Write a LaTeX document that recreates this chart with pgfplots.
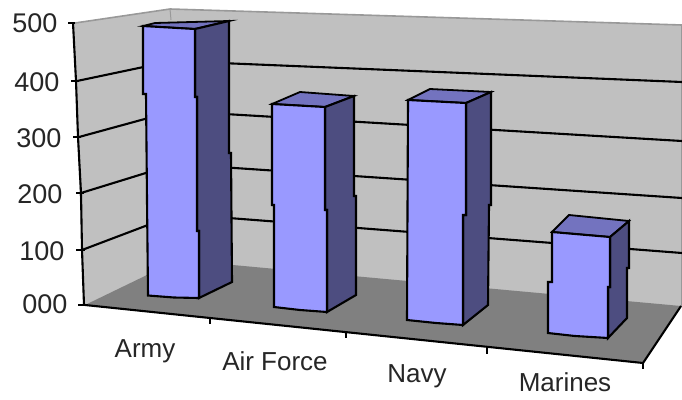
\documentclass[border=0pt]{standalone}
\usepackage{pgfplots}
\pgfplotsset{compat=1.18}
\usepackage{fontspec}
\setmainfont{Liberation Sans}
\definecolor{wall}{HTML}{C0C0C0}
\definecolor{floorc}{HTML}{808080}
\definecolor{front}{HTML}{9999FF}
\definecolor{side}{HTML}{4D4D80}
\definecolor{topc}{HTML}{7373BF}
\definecolor{rim}{HTML}{999999}
\begin{document}
\begin{tikzpicture}[x=1pt,y=1pt]
\useasboundingbox (0,0) rectangle (682pt,399pt);
\begin{axis}[
  at={(0,0)},anchor=south west,
  scale only axis,width=682pt,height=399pt,
  xmin=0,xmax=682,ymin=0,ymax=399,y dir=reverse,
  hide axis,clip=false,
  every axis plot/.append style={line join=miter,line cap=butt},
]
% walls
\addplot[fill=wall,draw=none] coordinates {(73,23)(170,9)(682,25)(682,306)(178,300)(84,305)} --cycle;
\addplot[rim,line width=1.6pt] coordinates {(75,23)(170,9)(682,25)};
\addplot[rim,line width=1pt] coordinates {(170,9)(171,20)};
\addplot[rim,line width=1pt] coordinates {(681.5,25)(681.5,306)};
% gridlines
\addplot[black,line width=2.1pt] coordinates {(77,81)(172,61)(682,82)};
\addplot[black,line width=2.1pt] coordinates {(79,137)(174,111)(682,141)};
\addplot[black,line width=2.1pt] coordinates {(81,193)(175,164)(682,198)};
\addplot[black,line width=2.1pt] coordinates {(82,250)(177,214)(682,253)};
% floor
\addplot[fill=floorc,draw=none] coordinates {(85,305)(178,260)(681,306)(643,363)} --cycle;
\addplot[black,line width=2.1pt] coordinates {(85,305)(643,363)(681,306)};
% value axis
\addplot[black,line width=2.1pt] coordinates {(73,23)(76,81)(78,137)(81,193)(82,250)(84,305)};
\addplot[black,line width=1.8pt] coordinates {(68,23)(75,23)};
\addplot[black,line width=1.8pt] coordinates {(71,81)(79,81)};
\addplot[black,line width=1.8pt] coordinates {(73,137)(81,137)};
\addplot[black,line width=1.8pt] coordinates {(76,193)(84,193)};
\addplot[black,line width=1.8pt] coordinates {(76,250)(85,250)};
\addplot[black,line width=1.8pt] coordinates {(78,305)(88,305)};
% category ticks
\addplot[black,line width=1.8pt] coordinates {(210,317)(210,324)};
\addplot[black,line width=1.8pt] coordinates {(346,331)(346,338)};
\addplot[black,line width=1.8pt] coordinates {(487,346)(487,354)};
\addplot[black,line width=1.8pt] coordinates {(643,362)(643,369)};
% Army
\addplot[fill=topc,draw=black,line width=1.8pt] coordinates {(143,26)(155,23)(229,21)(195,29)} --cycle;
\addplot[fill=side,draw=black,line width=2.1pt] coordinates {(195,29)(229,21)(229,153)(231,153)(232,282)(199,298)(199,231)(197,231)(197,97)(195,97)} --cycle;
\addplot[fill=front,draw=black,line width=2.1pt] coordinates {(143,26)(195,29)(195,97)(197,97)(197,231)(199,231)(199,298)(174,297.5)(148,295.5)(147,200)(146,94)(143,94)} --cycle;
% Air Force
\addplot[fill=topc,draw=black,line width=1.8pt] coordinates {(272,104)(300,92)(354,96)(325,107)} --cycle;
\addplot[fill=side,draw=black,line width=2.1pt] coordinates {(325,107)(354,96)(354,196)(356,196)(356,295)(327,312)(327,210)(325,210)} --cycle;
\addplot[fill=front,draw=black,line width=2.1pt] coordinates {(272,104)(325,107)(325,210)(327,210)(327,312)(300,310)(274,307)(274,205)(272,205)} --cycle;
% Navy
\addplot[fill=topc,draw=black,line width=1.8pt] coordinates {(408,100)(430,89)(491,92)(466,103)} --cycle;
\addplot[fill=side,draw=black,line width=2.1pt] coordinates {(466,103)(491,92)(491,205)(489,205)(488,305)(463,325)(463,215)(466,215)} --cycle;
\addplot[fill=front,draw=black,line width=2.1pt] coordinates {(408,100)(466,103)(466,215)(463,215)(463,325)(436,323)(407,320)} --cycle;
% Marines
\addplot[fill=topc,draw=black,line width=1.8pt] coordinates {(552,232)(569,215)(629,221)(610,237)} --cycle;
\addplot[fill=side,draw=black,line width=2.1pt] coordinates {(610,237)(629,221)(629,268)(627,268)(627,318)(608,338)(608,287)(610,287)} --cycle;
\addplot[fill=front,draw=black,line width=2.1pt] coordinates {(552,232)(610,237)(610,287)(608,287)(608,338)(575,336)(548,333)(548,282)(552,282)} --cycle;
% value labels
\node[anchor=base east,font=\fontsize{27}{27}\selectfont,text=black!85] at (axis cs:61,32) {500};
\node[anchor=base east,font=\fontsize{27}{27}\selectfont,text=black!85] at (axis cs:63,91) {400};
\node[anchor=base east,font=\fontsize{27}{27}\selectfont,text=black!85] at (axis cs:65,147) {300};
\node[anchor=base east,font=\fontsize{27}{27}\selectfont,text=black!85] at (axis cs:66,203) {200};
\node[anchor=base east,font=\fontsize{27}{27}\selectfont,text=black!85] at (axis cs:68,260) {100};
\node[anchor=base east,font=\fontsize{27}{27}\selectfont,text=black!85] at (axis cs:71,313) {000};
% category labels
\node[anchor=base,font=\fontsize{26}{26}\selectfont,text=black!85,inner sep=0pt] at (axis cs:145,357) {Army};
\node[anchor=base,font=\fontsize{26}{26}\selectfont,text=black!85,inner sep=0pt] at (axis cs:275,370) {Air Force};
\node[anchor=base,font=\fontsize{26}{26}\selectfont,text=black!85,inner sep=0pt] at (axis cs:417,382) {Navy};
\node[anchor=base,font=\fontsize{26}{26}\selectfont,text=black!85,inner sep=0pt] at (axis cs:565,391) {Marines};
\end{axis}
\end{tikzpicture}
\end{document}
